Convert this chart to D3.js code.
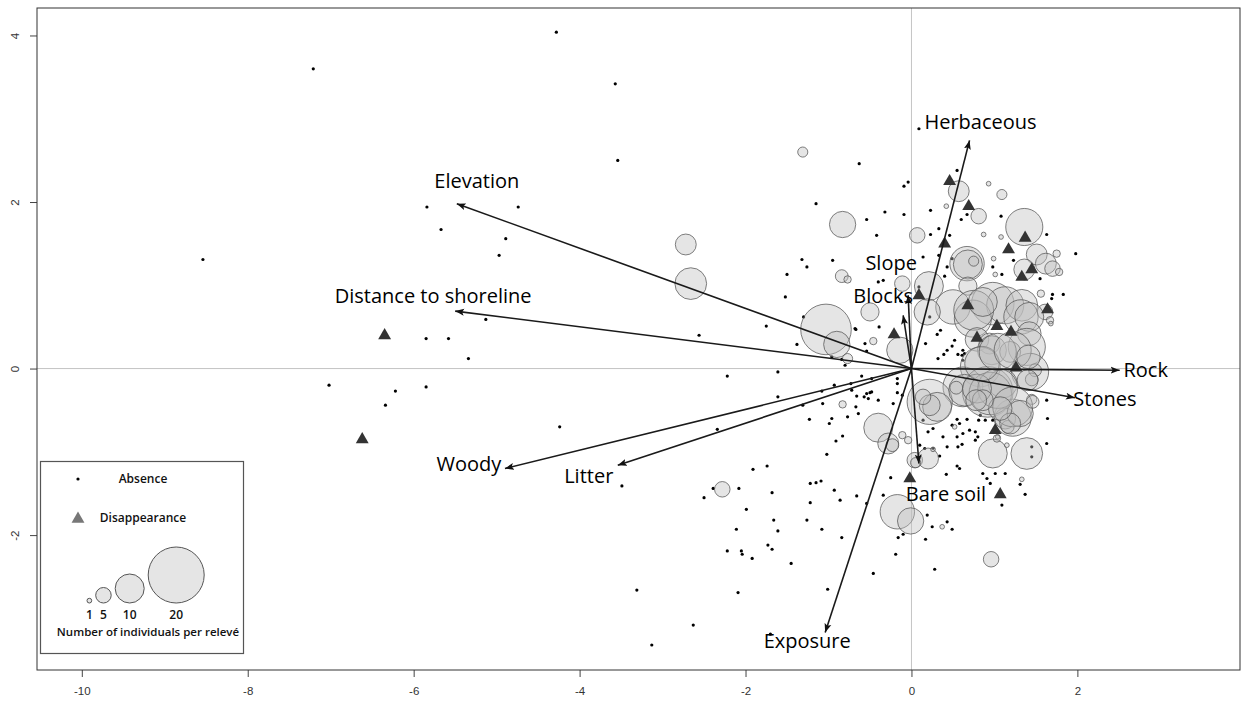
<!DOCTYPE html>
<html>
<head>
<meta charset="utf-8">
<script src="https://cdn.jsdelivr.net/npm/d3@7"></script>
<style>
  body { margin: 0; background: #fff; }
  svg { display: block; }
</style>
</head>
<body>
<svg id="chart" width="1243" height="702"></svg>
<script>
// relevés where the species was absent: [PC1, PC2]
var absence = [
  [-4.28,4.04],[-7.21,3.60],[-3.57,3.42],[-3.54,2.50],[-8.54,1.31],[-5.84,1.94],[-4.74,1.94],[-4.89,1.56],
  [-5.67,1.67],[-4.97,1.36],[-5.85,0.36],[-5.58,0.36],[-5.13,0.59],[-5.34,0.12],[-7.02,-0.20],[-5.85,-0.22],
  [-6.34,-0.44],[-6.22,-0.27],[-3.49,-1.41],[-4.24,-0.70],[-3.31,-2.66],[-3.13,-3.32],[-2.63,-3.08],
  [-2.22,-0.09],[-1.61,-0.04],[-1.61,-0.34],[-1.31,-0.44],[-1.08,-0.27],[-0.93,-0.20],[-0.73,-0.18],[-0.72,-0.26],
  [-0.66,-0.33],[-0.54,-0.30],[-0.50,-0.29],[-0.48,-0.28],[-0.52,-0.36],[-0.40,-0.38],[-0.17,-0.18],[-0.17,-0.29],
  [-1.07,-0.42],[-1.23,-0.61],[-0.99,-0.66],[-0.96,-0.60],[-0.77,-0.58],[-0.64,-0.54],[-0.67,-0.46],[-2.34,-0.73],
  [-0.83,-0.81],[-0.91,-0.87],[-1.02,-1.03],[-1.91,-1.21],[-1.74,-1.17],[-2.39,-1.44],[-2.50,-1.55],[-2.08,-1.44],
  [-1.68,-1.49],[-1.22,-1.38],[-1.15,-1.37],[-1.09,-1.35],[-0.93,-1.46],[-0.86,-1.58],[-0.66,-1.53],[-0.25,-1.31],
  [-1.22,-1.61],[-1.99,-1.69],[-1.66,-1.82],[-1.26,-1.82],[-1.61,-1.95],[-1.08,-1.93],[-2.11,-1.93],[-0.84,-2.03],
  [-1.73,-2.12],[-1.68,-2.17],[-2.22,-2.19],[-2.05,-2.19],[-2.04,-2.23],[-1.92,-2.28],[-1.45,-2.34],[-0.46,-2.46],
  [-0.19,-2.23],[-0.16,-2.03],[-2.09,-2.69],[-1.01,-2.65],[-1.70,-3.19],
  [-0.63,2.46],[-1.15,1.98],[-1.32,1.31],[-1.26,1.22],[-0.95,1.30],[-1.50,1.13],[-1.52,0.86],[-1.75,0.51],
  [-2.56,0.40],[-1.38,0.29],[-0.67,0.47],[-0.96,0.14],[-0.84,0.11],[-1.30,0.62],
  [0.55,2.38],[-0.09,2.19],[-0.04,2.24],[-0.32,1.88],[-0.54,1.79],[-0.09,1.85],[0.23,1.90],[0.33,1.68],
  [0.23,1.61],[-0.42,1.60],[0.14,1.34],[0.33,1.36],[0.46,1.60],[0.60,1.79],[0.67,1.85],[1.08,1.83],
  [1.63,1.61],[1.98,1.38],[0.98,1.22],[1.09,1.13],[-0.34,1.06],[-0.40,1.04],[0.09,0.98],[-0.13,0.81],
  [1.70,0.89],[1.83,0.89],[1.69,0.84],[0.31,0.41],[0.35,0.46],[-0.39,0.50],[-0.68,0.48],[0.22,0.62],
  [0.43,1.22],[0.49,1.32],[0.40,1.11],[0.09,2.88],
  [1.23,1.30],[1.55,1.08],[0.62,0.22],[0.64,0.18],[0.61,0.16],[0.62,0.10],[1.63,-0.38],[1.64,-0.60],
  [1.63,-0.90],[0.80,-0.82],[0.77,-0.86],[0.70,-0.74],[0.62,-0.78],[0.89,-0.62],[0.98,-0.62],[0.67,-0.61],
  [0.61,-0.91],[1.45,-0.94],[1.45,-1.06],
  [0.17,0.30],[0.43,0.22],[0.49,0.27],[0.39,0.17],[0.32,0.12],[0.56,0.17],[0.52,0.34],[-0.56,0.30],
  [-0.54,0.21],[-0.80,0.04],[-0.60,-0.09],[-0.48,-0.12],[-0.57,-0.34],[-0.17,-0.12],[-0.11,-0.32],[-0.22,-0.42],
  [0.14,-0.62],[0.20,-0.76],[0.26,-0.72],[0.38,-0.82],[0.49,-0.68],[0.55,-0.61],[0.58,-0.66],[0.77,-0.76],
  [0.81,-0.62],[0.83,-0.56],[0.55,-0.82],[0.10,-0.92],[0.16,-0.96],[0.26,-0.96],[0.43,-0.94],[0.56,-0.94],
  [0.34,-1.05],[0.55,-1.17],[0.58,-1.20],[0.42,-1.27],[0.86,-1.26],[0.91,-1.32],[0.95,-1.38],[1.01,-1.26],
  [1.13,-1.26],[1.31,-1.39],[1.37,-1.51],[1.09,-1.64],[-0.34,-1.52],[-0.54,-1.62],[0.19,-1.76],[0.25,-1.90],
  [0.43,-1.84],[0.49,-1.93],[0.17,-2.05],[0.28,-2.41],[-0.10,-1.99]
];

// relevés where the species disappeared: [PC1, PC2]
var disappearance = [
  [-6.35,0.41],[-6.62,-0.84],[0.46,2.26],[0.69,1.96],[0.40,1.51],[1.17,1.44],[1.37,1.58],[1.45,1.20],
  [1.33,1.11],[0.09,0.89],[0.68,0.77],[1.64,0.72],[1.03,0.52],[1.20,0.45],[-0.21,0.42],[0.79,0.38],
  [1.26,0.02],[1.01,-0.73],[-0.02,-1.31],[1.07,-1.50]
];

// relevés with the species present: [PC1, PC2, number of individuals]
var presence = [
  [-2.72,1.49,7],[-2.66,1.02,11],[-1.31,2.60,3],[-0.83,1.73,9],[-1.03,0.47,18],[-0.90,0.29,9],[-0.77,0.12,3],
  [-0.84,1.11,4],[-0.77,1.07,2],[-2.28,-1.45,5],[-0.83,-0.43,2],[-0.40,-0.71,10],[-0.28,-0.90,7],[-0.23,-0.92,4],
  [-0.17,-1.72,12],[-0.01,-1.83,9],[0.96,-2.29,5],[0.37,-1.90,1],
  [0.57,2.13,7],[1.09,2.09,3],[0.93,2.22,1],[0.42,1.95,1],[0.81,1.83,5],[1.36,1.70,13],[0.07,1.60,5],
  [0.87,1.61,1],[1.08,1.58,1],[0.67,1.26,12],[0.68,1.25,10],[0.75,1.29,3],[0.99,1.32,1],[1.51,1.37,7],
  [1.62,1.26,7],[1.70,1.20,5],[1.75,1.38,2],[1.78,1.16,2],[1.36,1.19,7],[1.01,1.13,1],[1.56,0.90,2],
  [-0.11,1.02,5],[0.21,0.99,10],[0.50,0.74,12],[0.68,0.99,6],[0.19,0.68,9],[-0.50,0.68,6],[0.98,0.78,15],
  [1.13,0.76,13],[1.33,0.76,11],[1.32,0.62,12],[0.74,0.60,13],[1.61,0.68,5],[1.67,0.58,2],[0.75,0.70,14],
  [0.86,0.80,10],[1.42,0.62,10],[1.42,0.42,8],[1.39,0.26,13],[0.79,0.35,8],[0.94,0.30,7],[0.97,0.22,10],
  [0.83,0.02,14],[1.19,0.20,7],[1.43,-0.04,13],[1.49,-0.02,4],[1.45,-0.13,4],[0.62,-0.22,14],[0.92,-0.28,18],
  [1.10,-0.18,10],[1.45,-0.37,3],[1.22,-0.59,13],[1.13,-0.60,7],[1.16,-0.70,4],[0.98,-1.02,10],[1.39,-1.02,11],
  [1.04,-0.82,1],
  [-0.14,0.22,9],[-0.46,0.33,2],[0.22,-0.40,16],[0.31,-0.46,10],[0.22,-0.44,7],[0.14,-0.34,5],[0.64,-0.26,11],
  [0.54,-0.23,4],[0.95,-0.30,15],[1.04,-0.24,14],[0.79,-0.24,10],[1.22,-0.46,14],[1.31,-0.54,9],[1.19,-0.66,7],
  [1.07,-0.48,8],[0.86,-0.38,7],[0.78,-0.38,7],[1.46,-0.40,4],[1.40,-0.14,7],[0.85,0.06,12],[1.04,0.20,13],
  [1.22,0.22,13],[1.41,0.14,8],[-0.11,-0.80,2],[-0.04,-0.86,2],[0.04,-1.10,5],[0.20,-1.08,7],[0.05,-1.13,3],
  [0.26,-0.97,1],[0.52,-0.70,1],[1.03,-0.84,2],[1.15,-0.92,1],[1.33,-1.33,1],[1.68,0.54,1]
];

// environmental variables (arrows)
var variables = ['Herbaceous', 'Elevation', 'Distance to shoreline', 'Slope', 'Blocks', 'Rock',
                 'Stones', 'Woody', 'Litter', 'Bare soil', 'Exposure'];
var loadingX = [0.70, -5.48, -5.50, -0.04, -0.10, 2.51, 1.97, -4.90, -3.54, 0.09, -1.04];
var loadingY = [2.74, 1.98, 0.69, 0.88, 0.64, -0.02, -0.35, -1.20, -1.16, -1.14, -3.17];

var legendSizes = [1, 5, 10, 20];
var xTicks = [-10, -8, -6, -4, -2, 0, 2];
var yTicks = [-2, 0, 2, 4];

// label centre relative to arrow tip, in pixels
var labelShift = [[11,-11],[20,-16],[-22,-8],[-17,-25],[-20,-12],[26,7],[30,8],[-36,3],[-29,18],[27,38],[-18,15]];

var svg = d3.select('#chart');
var box = { left: 37, top: 8, right: 1240, bottom: 670 };

var x = d3.scaleLinear().domain([-10.54, 3.96]).range([box.left, box.right]);
var y = d3.scaleLinear().domain([-3.62, 4.33]).range([box.bottom, box.top]);
var radius = d3.scaleLinear().domain([0, 20]).range([1, 28]);

var defs = svg.append('defs');
defs.append('clipPath').attr('id', 'plot-clip')
  .append('rect').attr('x', box.left).attr('y', box.top)
  .attr('width', box.right - box.left).attr('height', box.bottom - box.top);
defs.append('marker')
    .attr('id', 'head')
    .attr('markerUnits', 'userSpaceOnUse')
    .attr('markerWidth', 10).attr('markerHeight', 8)
    .attr('refX', 9).attr('refY', 4)
    .attr('orient', 'auto')
  .append('path')
    .attr('d', 'M0,0.5 L9,4 L0,7.5 L2,4 Z')
    .attr('fill', '#111');

var plot = svg.append('g').attr('clip-path', 'url(#plot-clip)');

// zero lines
plot.append('line')
  .attr('x1', box.left).attr('x2', box.right).attr('y1', y(0)).attr('y2', y(0))
  .attr('stroke', '#c4c4c4').attr('stroke-width', 1);
plot.append('line')
  .attr('x1', x(0)).attr('x2', x(0)).attr('y1', box.top).attr('y2', box.bottom)
  .attr('stroke', '#c4c4c4').attr('stroke-width', 1);

// absence dots
plot.append('g').selectAll('circle')
  .data(absence).enter()
  .append('circle')
    .attr('cx', d => x(d[0])).attr('cy', d => y(d[1]))
    .attr('r', 1.6)
    .attr('fill', '#000');

// presence circles, sized by number of individuals
plot.append('g').selectAll('circle')
  .data(presence).enter()
  .append('circle')
    .attr('cx', d => x(d[0])).attr('cy', d => y(d[1]))
    .attr('r', d => radius(d[2]))
    .attr('fill', '#bdbdbd').attr('fill-opacity', 0.4)
    .attr('stroke', '#555').attr('stroke-opacity', 0.75).attr('stroke-width', 1);

// disappearance triangles
var tri = d3.symbol().type(d3.symbolTriangle).size(72);
plot.append('g').selectAll('path')
  .data(disappearance).enter()
  .append('path')
    .attr('d', tri)
    .attr('transform', d => 'translate(' + x(d[0]) + ',' + (y(d[1]) + 1) + ')')
    .attr('fill', '#333');

// variable arrows
var arrows = svg.append('g');
arrows.selectAll('line')
  .data(variables).enter()
  .append('line')
    .attr('x1', x(0)).attr('y1', y(0))
    .attr('x2', (d, i) => x(loadingX[i]))
    .attr('y2', (d, i) => y(loadingY[i]))
    .attr('stroke', '#1a1a1a').attr('stroke-width', 1.6)
    .attr('marker-end', 'url(#head)');

arrows.selectAll('text')
  .data(variables).enter()
  .append('text')
    .attr('x', (d, i) => x(loadingX[i]) + labelShift[i][0])
    .attr('y', (d, i) => y(loadingY[i]) + labelShift[i][1])
    .attr('text-anchor', 'middle')
    .attr('font-family', '"Open Sans", sans-serif')
    .attr('font-size', 20)
    .attr('fill', '#000')
    .text(d => d);

// axes, R style
var xAxis = svg.append('g')
  .attr('transform', 'translate(0,' + box.bottom + ')')
  .call(d3.axisBottom(x).tickValues(xTicks).tickSize(7).tickPadding(10).tickFormat(d => String(d)));
var yAxis = svg.append('g')
  .attr('transform', 'translate(' + box.left + ',0)')
  .call(d3.axisLeft(y).tickValues(yTicks).tickSize(7).tickFormat(d => String(d)));

[xAxis, yAxis].forEach(function(a) {
  a.select('.domain').remove();
  a.selectAll('.tick line').attr('stroke', '#444');
  a.selectAll('.tick text')
    .attr('font-family', '"Liberation Sans", Arial, sans-serif')
    .attr('font-size', 11.5)
    .attr('fill', '#333');
});
yAxis.selectAll('.tick text')
  .attr('x', null).attr('dy', null)
  .attr('text-anchor', 'middle')
  .attr('dominant-baseline', 'central')
  .attr('transform', 'translate(-22,0) rotate(-90)');

svg.append('rect')
  .attr('x', box.left).attr('y', box.top)
  .attr('width', box.right - box.left).attr('height', box.bottom - box.top)
  .attr('fill', 'none').attr('stroke', '#333').attr('stroke-width', 1);

// legend
var legend = svg.append('g');
legend.append('rect')
  .attr('x', 40.5).attr('y', 461.5).attr('width', 203).attr('height', 192)
  .attr('fill', '#fff').attr('stroke', '#555').attr('stroke-width', 1.2);

var legendFont = '"Open Sans", sans-serif';
legend.append('circle').attr('cx', 78).attr('cy', 479).attr('r', 1.6).attr('fill', '#000');
legend.append('text').attr('x', 143).attr('y', 483)
  .attr('text-anchor', 'middle').attr('font-family', legendFont).attr('font-size', 12)
  .attr('font-weight', 600).attr('fill', '#111').text('Absence');
legend.append('path').attr('d', tri).attr('transform', 'translate(78,519)').attr('fill', '#777');
legend.append('text').attr('x', 143).attr('y', 522)
  .attr('text-anchor', 'middle').attr('font-family', legendFont).attr('font-size', 12)
  .attr('font-weight', 600).attr('fill', '#111').text('Disappearance');

// size key: circles sit on a common baseline, spaced by a small gap
var keyBase = 603, keyGap = 4, keyLeft = 87;
var keyX = [];
legendSizes.reduce(function(edge, n) {
  var r = radius(n);
  keyX.push(edge + r);
  return edge + 2 * r + keyGap;
}, keyLeft);

legend.selectAll('circle.key')
  .data(legendSizes).enter()
  .append('circle')
    .attr('class', 'key')
    .attr('cx', (d, i) => keyX[i])
    .attr('cy', d => keyBase - radius(d))
    .attr('r', d => radius(d))
    .attr('fill', '#bdbdbd').attr('fill-opacity', 0.4)
    .attr('stroke', '#555').attr('stroke-width', 1);
legend.selectAll('text.key')
  .data(legendSizes).enter()
  .append('text')
    .attr('class', 'key')
    .attr('x', (d, i) => keyX[i])
    .attr('y', 619)
    .attr('text-anchor', 'middle').attr('font-family', legendFont).attr('font-size', 12)
    .attr('font-weight', 600).attr('fill', '#111')
    .text(d => d);
legend.append('text').attr('x', 148).attr('y', 636)
  .attr('text-anchor', 'middle').attr('font-family', legendFont).attr('font-size', 11.5)
  .attr('font-weight', 600).attr('fill', '#111').text('Number of individuals per relevé');
</script>
</body>
</html>
